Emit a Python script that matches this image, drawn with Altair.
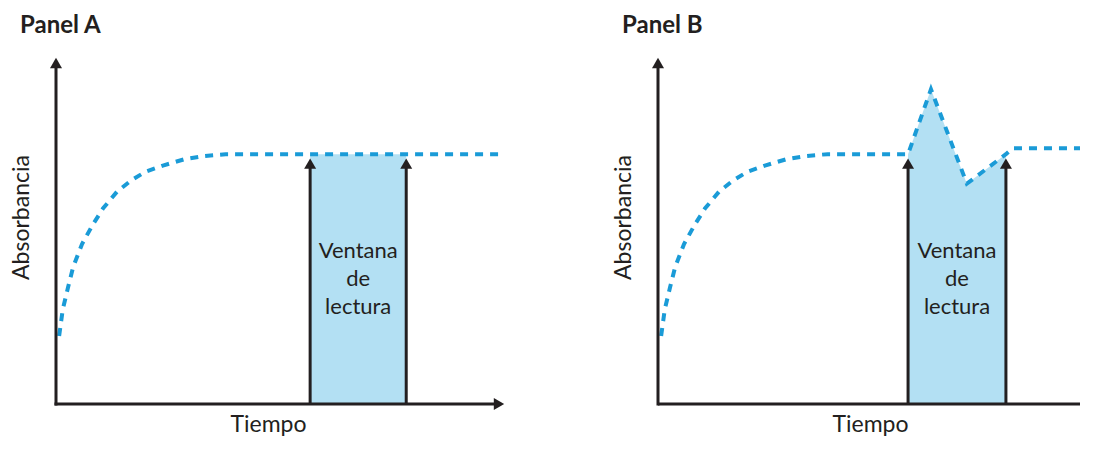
import altair as alt
import pandas as pd

# ---------------- data ----------------
# Panel A curve (Tiempo, Absorbancia) on a 0-10 scale
curve_a_t = [0.07, 0.15, 0.27, 0.38, 0.58, 0.82, 1.05, 1.36, 1.67, 1.99, 2.38, 2.85, 3.32, 3.78, 10.0]
curve_a_v = [1.96, 2.72, 3.37, 3.94, 4.61, 5.17, 5.64, 6.12, 6.44, 6.69, 6.87, 7.05, 7.15, 7.2, 7.2]

# Panel B curve: same rise, then a spike and dip inside the reading window
curve_b_t = [0.07, 0.15, 0.27, 0.38, 0.58, 0.82, 1.05, 1.36, 1.67, 1.99, 2.38, 2.85, 3.32, 3.78,
             5.57, 6.08, 6.88, 7.75, 7.9, 9.4]
curve_b_v = [1.96, 2.72, 3.37, 3.94, 4.61, 5.17, 5.64, 6.12, 6.44, 6.69, 6.87, 7.05, 7.15, 7.2,
             7.2, 9.07, 6.35, 7.2, 7.37, 7.37]

# Reading windows (start, end) and the shaded profile inside them
window_a = [5.66, 7.80]
window_a_fill_t = [5.66, 7.80]
window_a_fill_v = [7.2, 7.2]
window_b = [5.57, 7.75]
window_b_fill_t = [5.57, 6.08, 6.88, 7.75]
window_b_fill_v = [7.2, 9.07, 6.35, 7.2]
window_arrow_top = 7.1
window_label_level = 4.4

axis_max = 10.0
axis_b_visible_end = 9.4   # panel B is cut off by the right edge of the picture
panel_titles = ["Panel A", "Panel B"]
x_title = "Tiempo"
y_title = "Absorbancia"
window_label = "Ventana\nde\nlectura"

BLUE = "#1a9bd7"
FILL = "#b3e0f3"
INK = "#231f20"
FONT = "Lato"
PLOT_H = 347
PX_PER_UNIT = 44.9


def panel(title, curve_t, curve_v, window, fill_t, fill_v, x_end, with_x_head):
    width = round(x_end * PX_PER_UNIT)
    xs = alt.Scale(domain=[0, x_end], nice=False, zero=False)
    ys = alt.Scale(domain=[0, axis_max], nice=False, zero=False)
    xax = alt.Axis(
        title=x_title, domain=False, ticks=False, labels=False, grid=False,
        titleX=212, titleY=27, titleBaseline="alphabetic", titleFontSize=23,
        titleFont=FONT, titleFontWeight="normal", titleColor=INK)
    yax = alt.Axis(
        title=y_title, domain=False, ticks=False, labels=False, grid=False,
        titleX=-28, titleY=160, titleBaseline="alphabetic", titleFontSize=23,
        titleFont=FONT, titleFontWeight="normal", titleColor=INK)

    curve = pd.DataFrame({"t": curve_t, "v": curve_v})
    fill = pd.DataFrame({"t": fill_t, "v": fill_v})
    win = pd.DataFrame({"t": window, "v": [window_arrow_top] * len(window), "base": [0] * len(window)})
    axes_df = pd.DataFrame({"t": [0], "v": [0], "tmax": [x_end], "vmax": [axis_max]})
    label = pd.DataFrame({"t": [sum(window) / 2], "v": [window_label_level], "txt": [window_label]})

    X = lambda f: alt.X(f, scale=xs, axis=xax)
    Y = lambda f: alt.Y(f, scale=ys, axis=yax)

    area = alt.Chart(fill).mark_area(color=FILL, opacity=1).encode(x=X("t:Q"), y=Y("v:Q"))

    line = alt.Chart(curve).mark_line(
        color=BLUE, strokeWidth=4, strokeDash=[8, 7]
    ).encode(x=X("t:Q"), y=Y("v:Q"))

    win_rules = alt.Chart(win).mark_rule(color=INK, strokeWidth=3, y2Offset=8).encode(
        x=X("t:Q"), y=Y("base:Q"), y2="v:Q",
    )
    win_heads = alt.Chart(win).mark_point(
        shape="triangle-up", filled=True, size=144, color=INK, opacity=1, yOffset=6
    ).encode(x=X("t:Q"), y=Y("v:Q"))

    txt = alt.Chart(label).mark_text(
        font=FONT, fontSize=22, fontWeight="normal", color=INK, lineHeight=28,
        align="center", baseline="middle", lineBreak="\n"
    ).encode(x=X("t:Q"), y=Y("v:Q"), text="txt:N")

    y_axis = alt.Chart(axes_df).mark_rule(color=INK, strokeWidth=3, y2Offset=9, strokeCap="square").encode(
        x=X("t:Q"), y=Y("v:Q"), y2="vmax:Q",
    )
    y_head = alt.Chart(axes_df).mark_point(
        shape="triangle-up", filled=True, size=144, color=INK, opacity=1, yOffset=6
    ).encode(x=X("t:Q"), y=Y("vmax:Q"))
    layers = [area, line, win_rules, win_heads, txt, y_axis, y_head]
    if with_x_head:
        layers.append(alt.Chart(axes_df).mark_rule(
            color=INK, strokeWidth=3, x2Offset=-9, strokeCap="square"
        ).encode(x=X("t:Q"), x2="tmax:Q", y=Y("v:Q")))
        layers.append(alt.Chart(axes_df).mark_point(
            shape="triangle-right", filled=True, size=144, color=INK, opacity=1, xOffset=-6
        ).encode(x=X("tmax:Q"), y=Y("v:Q")))
    else:
        layers.append(alt.Chart(axes_df).mark_rule(
            color=INK, strokeWidth=3, strokeCap="butt"
        ).encode(x=X("t:Q"), x2="tmax:Q", y=Y("v:Q")))

    return alt.layer(*layers).properties(
        width=width, height=PLOT_H,
        title=alt.TitleParams(title, anchor="start", frame="group", dx=-36, fontSize=24, font=FONT,
                              fontWeight="bold", color=INK, baseline="alphabetic", offset=0),
    )


pa = panel(panel_titles[0], curve_a_t, curve_a_v, window_a, window_a_fill_t, window_a_fill_v,
           axis_max, True)
pb = panel(panel_titles[1], curve_b_t, curve_b_v, window_b, window_b_fill_t, window_b_fill_v,
           axis_b_visible_end, False)

chart = alt.hconcat(pa, pb, spacing=99).properties(
    padding={"left": 2, "top": 6, "right": 0, "bottom": 0},
    background="white",
).configure_view(stroke=None)

chart.save("out.html", embed_options={"renderer": "svg", "actions": False})
